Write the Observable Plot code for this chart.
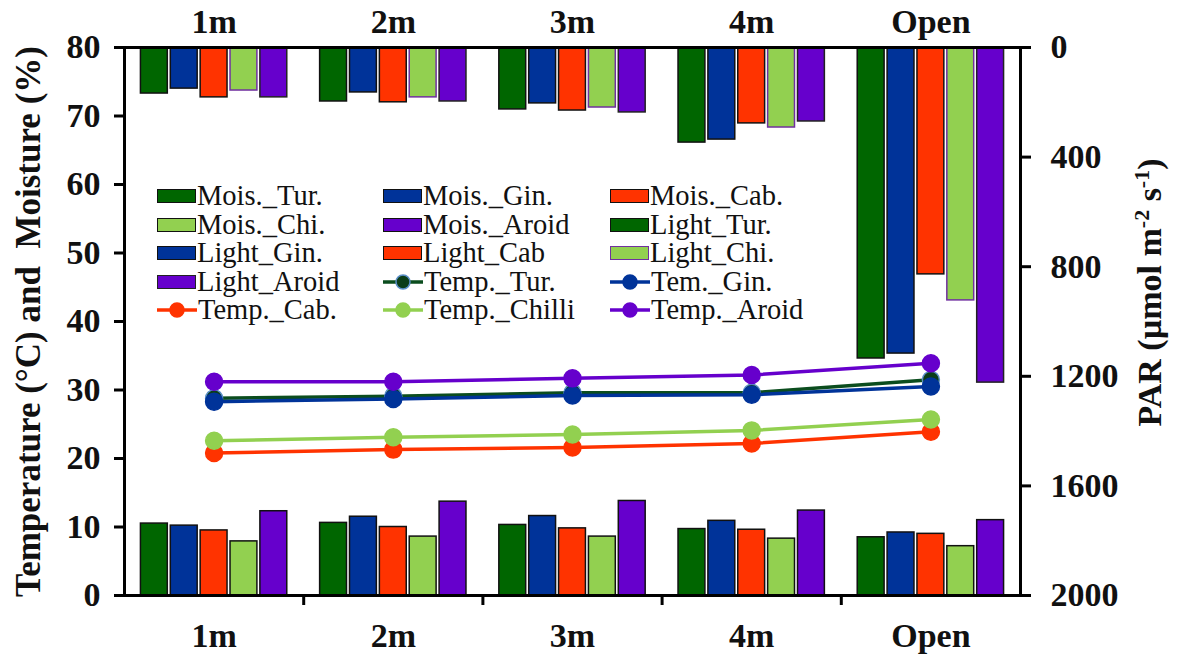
<!DOCTYPE html>
<html><head><meta charset="utf-8">
<script src="https://cdn.jsdelivr.net/npm/d3@7"></script>
<script src="https://cdn.jsdelivr.net/npm/@observablehq/plot@0.6"></script>
<style>
body{margin:0;background:#fff;}
#wrap{position:relative;width:1182px;height:660px;}
#legend{position:absolute;left:157px;top:182px;display:grid;grid-template-columns:226px 227px 240px;font-family:"Liberation Serif",serif;font-size:28.5px;line-height:28.5px;color:#111;}
.item{display:flex;align-items:center;height:28.5px;white-space:nowrap;}
.sw{width:39px;height:14px;box-sizing:border-box;margin-right:1px;flex:none;}
.lsw{width:40px;height:20px;margin-right:1px;flex:none;}
</style></head><body><div id="wrap"><div id="chart"></div><div id="legend"></div></div>
<script>
// ---- data ----
const locations = ["1m", "2m", "3m", "4m", "Open"];
const species = ["Tur.", "Gin.", "Cab.", "Chi.", "Aroid"];
const speciesColors = ["#006600", "#003399", "#FF3300", "#92D050", "#6600CC"];

const moisTur   = [10.5, 10.6, 10.3, 9.7, 8.5];
const moisGin   = [10.2, 11.5, 11.6, 10.9, 9.2];
const moisCab   = [9.5, 10.0, 9.8, 9.6, 9.0];
const moisChi   = [7.9, 8.6, 8.6, 8.3, 7.2];
const moisAroid = [12.3, 13.7, 13.8, 12.4, 11.0];

const lightTur   = [168, 197, 226, 347, 1135];
const lightGin   = [150, 164, 204, 336, 1117];
const lightCab   = [182, 200, 230, 277, 828];
const lightChi   = [157, 182, 219, 292, 923];
const lightAroid = [182, 197, 237, 270, 1223];

const tempTur   = [28.8, 29.1, 29.6, 29.6, 31.5];
const tempGin   = [28.3, 28.7, 29.2, 29.3, 30.5];
const tempCab   = [20.8, 21.3, 21.6, 22.2, 23.9];
const tempChi   = [22.6, 23.1, 23.5, 24.1, 25.7];
const tempAroid = [31.2, 31.2, 31.7, 32.2, 33.9];

const leftTicks = [0, 10, 20, 30, 40, 50, 60, 70, 80];
const parTicks = [0, 400, 800, 1200, 1600, 2000];
const yMax = 80, parMax = 2000;

const legendLabels = ["Mois._Tur.", "Mois._Gin.", "Mois._Cab.", "Mois._Chi.", "Mois._Aroid", "Light_Tur.",
  "Light_Gin.", "Light_Cab", "Light_Chi.", "Light_Aroid", "Temp._Tur.", "Tem._Gin.",
  "Temp._Cab.", "Temp._Chilli", "Temp._Aroid"];
const yTitle = "Temperature (°C) and  Moisture (%)";
const parTitle = "PAR (µmol m-2 s-1)";

// ---- build tables ----
const moisSeries = [moisTur, moisGin, moisCab, moisChi, moisAroid];
const lightSeries = [lightTur, lightGin, lightCab, lightChi, lightAroid];
const tempSeries = [tempTur, tempGin, tempCab, tempChi, tempAroid];

const keyOf = (loc, sp) => loc + "|" + sp;
const xKeys = [];
const gapKeys = [];
locations.forEach((loc, i) => {
  species.forEach(sp => xKeys.push(keyOf(loc, sp)));
  if (i < locations.length - 1) { xKeys.push("gap" + i); gapKeys.push("gap" + i); }
});
const centerKeys = locations.map(loc => keyOf(loc, species[2]));
const keyToLoc = new Map(centerKeys.map((k, i) => [k, locations[i]]));

const barRows = species.map((sp, j) => locations.map((loc, i) => ({
  key: keyOf(loc, sp), mois: moisSeries[j][i], light: lightSeries[j][i]
})));
const tempRows = species.map((sp, j) => locations.map((loc, i) => ({
  key: keyOf(loc, species[2]), temp: tempSeries[j][i]
})));
const parToY = p => yMax * (1 - p / parMax);

const lightStroke = ["#111", "#111", "#111", "#7030A0", "#222"];
const tempLine = ["#0B4D1E", "#003399", "#FF3300", "#92D050", "#6600CC"];
const tempDotFill = ["#0B3D18", "#003399", "#FF3300", "#92D050", "#6600CC"];
const tempDotStroke = ["#5B8FC8", "#003399", "#FF3300", "#92D050", "#6600CC"];

const marks = [];
species.forEach((sp, j) => {
  marks.push(Plot.barY(barRows[j], {x: "key", y1: yMax, y2: d => parToY(d.light),
    fill: speciesColors[j], stroke: lightStroke[j], strokeWidth: 1.5}));
  marks.push(Plot.barY(barRows[j], {x: "key", y: "mois",
    fill: speciesColors[j], stroke: "#111", strokeWidth: 1.5}));
});
species.forEach((sp, j) => {
  marks.push(Plot.line(tempRows[j], {x: "key", y: "temp", stroke: tempLine[j], strokeWidth: 3.5}));
  marks.push(Plot.dot(tempRows[j], {x: "key", y: "temp", r: 8.5, fill: tempDotFill[j],
    stroke: tempDotStroke[j], strokeWidth: 1.5}));
});
const bold = {fontSize: 34, fontWeight: "bold", fill: "#111"};
marks.push(
  Plot.frame({stroke: "#000", strokeWidth: 3}),
  Plot.axisY({anchor: "left", ticks: leftTicks, tickSize: 10, tickPadding: 14, strokeWidth: 3,
    label: null, ...bold}),
  Plot.axisY({anchor: "right", ticks: parTicks.map(parToY), tickSize: 10, tickPadding: 20, strokeWidth: 3,
    tickFormat: v => String(Math.round(parMax * (1 - v / yMax))), label: null, ...bold}),
  Plot.axisX({anchor: "bottom", ticks: gapKeys, tickSize: 10, tickFormat: () => "", strokeWidth: 3, label: null}),
  Plot.axisX({anchor: "bottom", ticks: centerKeys, tickSize: 0, tickPadding: 27,
    tickFormat: k => keyToLoc.get(k), label: null, ...bold}),
  Plot.axisX({anchor: "top", ticks: centerKeys, tickSize: 0, tickPadding: 15,
    tickFormat: k => keyToLoc.get(k), label: null, ...bold}),
  Plot.text([yTitle], {text: d => d, frameAnchor: "left", textAnchor: "middle", lineAnchor: "middle",
    dx: -96, rotate: -90, ...bold, fontSize: 35}),
  Plot.text([parTitle], {text: d => d, frameAnchor: "right", textAnchor: "middle", lineAnchor: "middle",
    dx: 130, dy: -29, rotate: -90, ...bold})
);

const chart = Plot.plot({
  width: 1182, height: 660,
  marginLeft: 124, marginRight: 162, marginTop: 47, marginBottom: 65,
  style: {fontFamily: "'Liberation Serif', 'Times New Roman', serif", background: "white", overflow: "visible"},
  x: {type: "band", domain: xKeys, paddingInner: 0.1, paddingOuter: 0.55, round: false},
  y: {domain: [0, yMax]},
  marks
});
document.getElementById("chart").appendChild(chart);

// superscripts in PAR title
chart.querySelectorAll("text").forEach(t => {
  if (t.textContent === parTitle) {
    const ns = "http://www.w3.org/2000/svg";
    while (t.firstChild) t.removeChild(t.firstChild);
    const parts = [["PAR (µmol m", false], ["-2", true], [" s", false], ["-1", true], [")", false]];
    parts.forEach(([s, sup]) => {
      const ts = document.createElementNS(ns, "tspan");
      ts.textContent = s;
      if (sup) { ts.setAttribute("font-size", "22"); ts.setAttribute("baseline-shift", "super"); }
      t.appendChild(ts);
    });
  }
});

// legend
const legend = document.getElementById("legend");
legendLabels.forEach((label, idx) => {
  const item = document.createElement("div");
  item.className = "item";
  let sw;
  if (idx < 10) {
    const j = idx % 5;
    sw = document.createElement("div");
    sw.className = "sw";
    sw.style.background = speciesColors[j];
    sw.style.border = "1.5px solid " + (idx >= 5 ? lightStroke[j] : "#111");
  } else {
    const j = idx - 10;
    sw = document.createElementNS("http://www.w3.org/2000/svg", "svg");
    sw.setAttribute("class", "lsw");
    sw.setAttribute("viewBox", "0 0 40 20");
    sw.innerHTML = `<line x1="0" y1="10" x2="40" y2="10" stroke="${tempLine[j]}" stroke-width="3.5"/>` +
      `<circle cx="20" cy="10" r="7" fill="${tempDotFill[j]}" stroke="${tempDotStroke[j]}" stroke-width="1.5"/>`;
  }
  const span = document.createElement("span");
  span.textContent = label;
  item.appendChild(sw);
  item.appendChild(span);
  legend.appendChild(item);
});
</script></body></html>
